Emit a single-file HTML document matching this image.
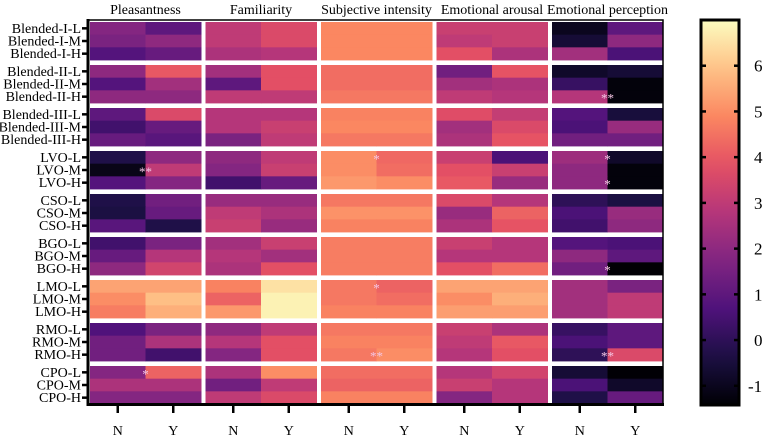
<!DOCTYPE html>
<html><head><meta charset="utf-8"><style>
body{margin:0;background:#fff;font-family:"Liberation Serif","Times New Roman",Times,serif;}
svg{display:block;}
svg text{font-family:"Liberation Serif","Times New Roman",Times,serif !important;}
</style></head><body>
<svg id="chart" width="767" height="437"></svg>
<script>
const metrics=["Pleasantness","Familiarity","Subjective intensity","Emotional arousal","Emotional perception"];
const conditions=["N","Y"];
const rowLabels=["Blended-I-L","Blended-I-M","Blended-I-H","Blended-II-L","Blended-II-M","Blended-II-H","Blended-III-L","Blended-III-M","Blended-III-H","LVO-L","LVO-M","LVO-H","CSO-L","CSO-M","CSO-H","BGO-L","BGO-M","BGO-H","LMO-L","LMO-M","LMO-H","RMO-L","RMO-M","RMO-H","CPO-L","CPO-M","CPO-H"];
const pleasantness=[[1.8,1.0],[1.6,2.0],[0.8,1.2],[2.0,4.0],[0.8,2.4],[2.0,2.0],[1.0,3.6],[0.4,1.2],[1.2,0.9],[-0.3,2.0],[-1.1,3.0],[0.8,1.8],[-0.3,1.4],[-0.4,1.2],[0.9,-0.3],[0.4,1.6],[1.2,2.8],[2.0,3.4],[5.4,5.4],[5.0,5.9],[4.7,5.6],[0.7,1.6],[1.4,2.6],[1.4,0.4],[1.8,4.2],[2.6,2.6],[1.8,1.8]];
const familiarity=[[3.0,3.6],[3.0,3.6],[2.6,2.8],[2.4,3.8],[1.0,3.8],[3.0,3.0],[2.8,2.8],[2.8,3.2],[1.6,3.0],[2.0,3.0],[1.8,3.2],[0.4,1.2],[2.2,2.2],[3.0,2.6],[3.2,2.2],[2.4,3.2],[2.8,2.4],[2.6,3.8],[4.8,6.5],[4.2,6.8],[5.2,6.8],[2.0,3.0],[2.8,3.8],[1.8,3.8],[2.6,5.0],[1.4,3.0],[3.0,3.6]];
const intensity=[[4.9,4.9],[4.9,4.9],[4.9,4.9],[4.4,4.4],[4.4,4.4],[4.6,4.6],[4.8,4.8],[4.9,4.9],[4.6,4.6],[5.0,4.3],[5.0,4.4],[5.2,5.0],[4.6,4.6],[5.1,5.1],[4.8,4.8],[4.7,4.7],[4.7,4.7],[4.7,4.7],[4.6,4.2],[4.6,4.4],[4.8,4.8],[4.6,4.6],[4.8,4.8],[4.6,5.0],[4.4,4.4],[4.2,4.2],[4.8,4.8]];
const arousal=[[3.2,3.2],[3.0,3.2],[3.8,2.6],[1.4,3.9],[2.4,2.6],[3.0,2.8],[3.7,3.1],[2.4,3.6],[2.6,3.9],[3.2,0.6],[3.8,3.2],[4.0,2.2],[3.6,2.8],[2.2,4.2],[2.6,3.9],[3.2,2.8],[2.8,2.8],[3.8,4.4],[5.4,5.4],[5.0,5.6],[5.3,5.3],[3.2,2.6],[3.0,4.0],[2.8,3.8],[2.8,3.4],[3.2,2.8],[1.8,2.8]];
const perception=[[-1.0,1.0],[-0.6,2.0],[2.4,0.6],[-0.8,-0.6],[0.2,-1.3],[2.8,-1.3],[0.8,-0.5],[0.6,2.2],[1.4,1.4],[2.3,-0.8],[2.0,-1.3],[2.0,-1.3],[0.0,-0.4],[0.6,2.2],[0.4,2.0],[0.8,0.6],[2.0,1.0],[1.4,-1.4],[2.4,1.6],[2.4,3.0],[2.4,3.0],[0.2,1.0],[0.6,1.0],[0.0,3.6],[-0.6,-1.4],[0.6,-0.8],[-0.3,1.2]];
const significance=[[5,4,0,"**"],[10,0,0,"**"],[9,2,0,"*"],[9,4,0,"*"],[11,4,0,"*"],[17,4,0,"*"],[18,2,0,"*"],[23,2,0,"**"],[23,4,0,"**"],[24,0,0,"*"]];
const colorTicks=[6,5,4,3,2,1,0,-1];
const vmin=-1.42, vmax=7.0;

const series=[pleasantness,familiarity,intensity,arousal,perception];
const magma=[[0,0,0,4],[0.1,28,16,68],[0.2,79,18,123],[0.3,129,37,129],[0.4,181,54,122],[0.5,229,80,100],[0.6,251,135,97],[0.7,254,194,135],[0.8,252,253,191]];
magma.forEach((s,i)=>s[0]=i/(magma.length-1));
function color(v){let t=(v-vmin)/(vmax-vmin);t=Math.max(0,Math.min(1,t));
 for(let i=1;i<magma.length;i++){if(t<=magma[i][0]){const a=magma[i-1],b=magma[i];const f=(t-a[0])/(b[0]-a[0]);
 return `rgb(${Math.round(a[1]+f*(b[1]-a[1]))},${Math.round(a[2]+f*(b[2]-a[2]))},${Math.round(a[3]+f*(b[3]-a[3]))})`;}}
 return "rgb(252,253,191)";}
const NS="http://www.w3.org/2000/svg";const svg=document.getElementById("chart");
function mk(tag,attrs,parent){const e=document.createElementNS(NS,tag);for(const k in attrs)e.setAttribute(k,attrs[k]);if(tag==="text")e.style.fontFamily='"Liberation Serif","Times New Roman",serif';(parent||svg).appendChild(e);return e;}
const blockX=m=>90+m*115.5, halfW=55.5;
const cellX=(m,c)=>blockX(m)+c*halfW;
const rowY=r=>22+Math.floor(r/3)*43+(r%3)*12.67;
const rowH=12.67;
series.forEach((arr,m)=>{arr.forEach((pair,r)=>{pair.forEach((v,c)=>{
 const el=mk("rect",{x:cellX(m,c),y:rowY(r),width:halfW+0.5,height:rowH+0.4,fill:color(v)});
 
 
});});});
let e=mk("polyline",{points:"88,20 663,20 663,404.5",fill:"none",stroke:"#000","stroke-width":1.5});

e=mk("line",{x1:88,y1:19,x2:88,y2:405.5,stroke:"#000","stroke-width":3});

e=mk("line",{x1:86.5,y1:404.5,x2:664,y2:404.5,stroke:"#000","stroke-width":3});

rowLabels.forEach((l,r)=>{const y=rowY(r)+rowH/2;
 const t=mk("text",{x:81,y:y+4.5,"text-anchor":"end","font-size":"14"});t.textContent=l;
 
 const k=mk("line",{x1:82,y1:y,x2:88,y2:y,stroke:"#000","stroke-width":2.5});
 
});
metrics.forEach((m,i)=>{const t=mk("text",{x:blockX(i)+halfW,y:14,"text-anchor":"middle","font-size":"14"});t.textContent=m;
 
 conditions.forEach((c,j)=>{const x=cellX(i,j)+halfW/2;
  const k=mk("line",{x1:x,y1:405,x2:x,y2:413,stroke:"#000","stroke-width":2.5});
  
  const l=mk("text",{x:x,y:435,"text-anchor":"middle","font-size":"14"});l.textContent=c;
  });
});
significance.forEach(s=>{const x=cellX(s[1],1);const y=rowY(s[0])+rowH/2+6;
 const t=mk("text",{x:x,y:y,"text-anchor":"middle","font-size":"13",fill:"#f4c6e4"});t.textContent=s[3];
 });
const defs=mk("defs",{});const g=mk("linearGradient",{id:"cg",x1:0,y1:1,x2:0,y2:0},defs);
for(let i=0;i<=20;i++){const v=vmin+(vmax-vmin)*i/20;mk("stop",{offset:(i/20),"stop-color":color(v)},g);}
const cbTop=20,cbBot=405,cbY=v=>cbBot-(v-vmin)/(vmax-vmin)*(cbBot-cbTop);
e=mk("rect",{x:701,y:cbTop,width:38,height:cbBot-cbTop,fill:"url(#cg)",stroke:"#000","stroke-width":3});

colorTicks.forEach(v=>{const y=cbY(v);
 let k=mk("line",{x1:701,y1:y,x2:706,y2:y,stroke:"#000","stroke-width":2.5});
 k=mk("line",{x1:734,y1:y,x2:739,y2:y,stroke:"#000","stroke-width":2.5});
 const t=mk("text",{x:v<0?748:754,y:y+6,"font-size":"17"});t.textContent=v;
 });
</script>
</body></html>
